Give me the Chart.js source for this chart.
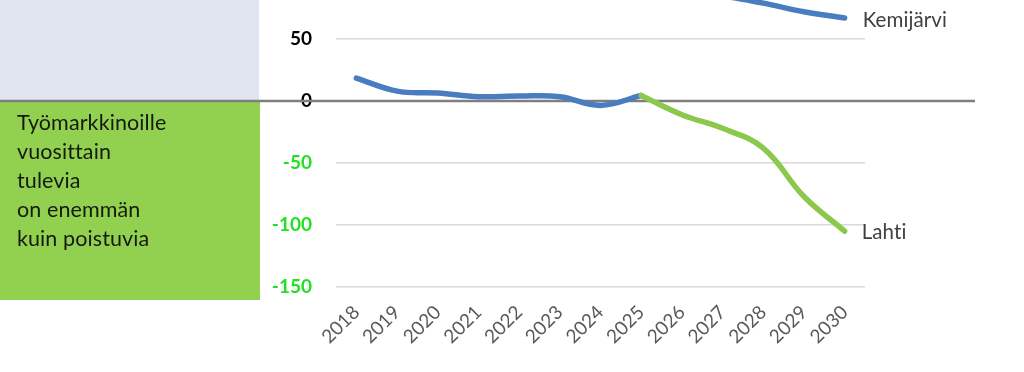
<!DOCTYPE html>
<html>
<head>
<meta charset="utf-8">
<script src="https://cdn.jsdelivr.net/npm/chart.js@4/dist/chart.umd.min.js"></script>
<style>
  html, body { margin: 0; padding: 0; background: #fff; }
  #wrap { width: 1024px; height: 372px; position: relative; }
</style>
</head>
<body>
<div id="wrap"><canvas id="chart" width="1024" height="372"></canvas></div>
<script>
// data
const years = ['2018','2019','2020','2021','2022','2023','2024','2025','2026','2027','2028','2029','2030'];
const lahtiHistory = [18.5, 8, 6.5, 3.5, 4, 3.5, -3.5, 4.5, null, null, null, null, null];
const lahtiForecast = [null, null, null, null, null, null, null, 4.5, -11, -22, -38, -77, -105];
const kemijarvi = [null, null, null, null, null, null, null, null, 91.5, 85, 79, 72, 67];
const yTicks = [-150, -100, -50, 0, 50];
const lineNames = ['Kemijärvi', 'Lahti'];
const panelText = ['Työmarkkinoille', 'vuosittain', 'tulevia', 'on enemmän', 'kuin poistuvia'];

const BLUE = '#4a7cc0', GREEN = '#8cc84c', TICK_GREEN = '#22e022';

Chart.defaults.font.family = 'Lato';

// left side boxes + zero line + end labels
const panel = {
  id: 'panel',
  beforeDraw(chart) {
    const c = chart.ctx, y = chart.scales.y;
    const z = y.getPixelForValue(0), bot = y.getPixelForValue(-150) + 13;
    c.save();
    c.fillStyle = '#dfe5f1';
    c.fillRect(0, 0, 259, z);
    c.fillStyle = '#92d050';
    c.fillRect(0, z, 260, bot - z);
    c.fillStyle = '#141a10';
    c.font = '21.5px Lato';
    c.letterSpacing = '0.1px';   // no ti-ligature
    c.textBaseline = 'middle';
    panelText.forEach((t, i) => c.fillText(t, 17, z + 22 + i * 29));
    c.restore();
  },
  beforeDatasetsDraw(chart) {
    const c = chart.ctx, z = chart.scales.y.getPixelForValue(0);
    c.save();
    c.strokeStyle = '#7f7f7f'; c.lineWidth = 2.5;
    c.beginPath(); c.moveTo(0, z); c.lineTo(975, z); c.stroke();
    c.restore();
  },
  afterDatasetsDraw(chart) {
    const c = chart.ctx;
    c.save();
    c.fillStyle = '#404040';
    c.font = '20.5px Lato';
    c.letterSpacing = '0.1px';
    c.textBaseline = 'middle';
    const k = chart.getDatasetMeta(2).data[years.length - 1];
    const l = chart.getDatasetMeta(1).data[years.length - 1];
    c.fillText(lineNames[0], k.x + 18, k.y + 2);
    c.fillText(lineNames[1], l.x + 17, l.y + 1);
    c.restore();
  }
};

new Chart(document.getElementById('chart'), {
  type: 'line',
  data: {
    labels: years,
    datasets: [
      { data: lahtiHistory, borderColor: BLUE, order: 2 },
      { data: lahtiForecast, borderColor: GREEN, order: 1 },
      { data: kemijarvi, borderColor: BLUE, order: 3 }
    ]
  },
  options: {
    responsive: false,
    animation: false,
    layout: { padding: { top: 0, right: 159, bottom: 0, left: 0 } },
    elements: {
      line: { borderWidth: 5.5, tension: 0.4, borderCapStyle: 'round', borderJoinStyle: 'round' },
      point: { radius: 0 }
    },
    plugins: { legend: { display: false }, tooltip: { enabled: false } },
    scales: {
      x: {
        offset: true,
        grid: { display: false },
        border: { display: false },
        ticks: { minRotation: 45, maxRotation: 45, color: '#595959', font: { size: 19 }, padding: 6 },
        afterFit: s => { s.height = 85; s.paddingLeft = 0; s.paddingRight = 0; }
      },
      y: {
        min: -150, max: 81.5,
        afterBuildTicks: s => { s.ticks = yTicks.map(v => ({ value: v })); },
        border: { display: false },
        grid: {
          drawTicks: false,
          color: ctx => ctx.tick && ctx.tick.value === 0 ? 'rgba(0,0,0,0)' : '#d9d9d9',
          lineWidth: 1.5
        },
        ticks: {
          padding: 24,
          color: ctx => ctx.tick.value < 0 ? TICK_GREEN : '#000',
          font: { size: 19, weight: 'bold' }
        },
        afterFit: s => { s.width = 336; s.paddingTop = 0; s.paddingBottom = 0; }
      }
    }
  },
  plugins: [panel]
});
</script>
</body>
</html>
